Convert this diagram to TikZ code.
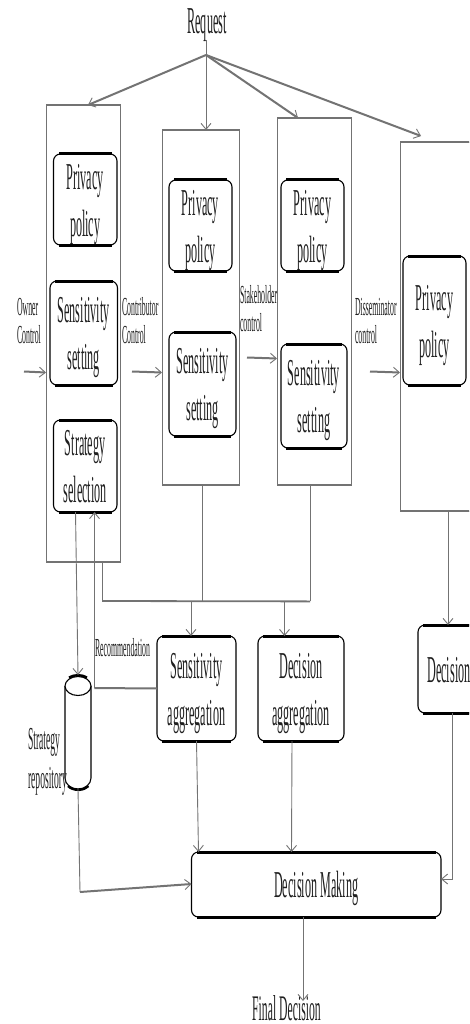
\documentclass[tikz,border=0pt]{standalone}
\usepackage{fontspec}
\setmainfont{Liberation Serif}
\usetikzlibrary{arrows.meta}
\definecolor{linegray}{gray}{0.45}
\definecolor{inkgray}{gray}{0.12}
\newcommand{\sqtext}[4]{{\fontsize{#1}{#2}\selectfont\setbox\strutbox\hbox{\vrule height .72\baselineskip depth .28\baselineskip width 0pt}\scalebox{#3}[1]{\begin{tabular}{@{}l@{}}#4\end{tabular}}}}
\newcommand{\sqcent}[4]{{\fontsize{#1}{#2}\selectfont\setbox\strutbox\hbox{\vrule height .72\baselineskip depth .28\baselineskip width 0pt}\scalebox{#3}[1]{\begin{tabular}{@{}c@{}}#4\end{tabular}}}}
\newcommand{\bigtext}[1]{\sqcent{38}{47}{0.32}{#1}}
\newcommand{\smalltext}[1]{\sqtext{26}{28}{0.3}{#1}}
\tikzset{
  boxbase/.style={inner sep=0pt,outer sep=0pt,rounded corners=7pt,draw=black,line width=1.1pt,fill=white},
  wrapbase/.style={inner sep=0pt,outer sep=0pt,draw=linegray,line width=0.9pt},
  boxbar/.style={fill=black},
  wrapbar/.style={fill=linegray},
  textlabel/.style={inner sep=0pt,outer sep=0pt,text=inkgray},
  thin conn/.style={draw=linegray,line width=0.9pt},
  thick conn/.style={draw=linegray,line width=2pt},
  tip/.style={-{Straight Barb[length=6pt,width=10pt,line width=0.9pt]}},
}
% name, x1, y1, x2, y2, text
\newcommand{\rbox}[6]{%
  \pgfmathsetmacro{\cx}{(#2+#4)/2}\pgfmathsetmacro{\cy}{-(#3+#5)/2}%
  \pgfmathsetmacro{\ww}{#4-#2}\pgfmathsetmacro{\hh}{#5-#3}%
  \node[boxbase,minimum width=\ww pt,minimum height=\hh pt] (#1) at (\cx,\cy) {};%
  \path[boxbar] (#2+5,-#3+1.5) rectangle (#4-5,-#3-1.5);%
  \path[boxbar] (#2+5,-#5+1.5) rectangle (#4-5,-#5-1.5);%
  \node[textlabel] (#1-text) at (\cx,\cy-3) {\bigtext{#6}};%
}
\newcommand{\wbox}[5]{%
  \pgfmathsetmacro{\cx}{(#2+#4)/2}\pgfmathsetmacro{\cy}{-(#3+#5)/2}%
  \pgfmathsetmacro{\ww}{#4-#2}\pgfmathsetmacro{\hh}{#5-#3}%
  \node[wrapbase,minimum width=\ww pt,minimum height=\hh pt] (#1) at (\cx,\cy) {};%
  \path[wrapbar] (#2,-#3+1) rectangle (#4,-#3-1);%
  \path[wrapbar] (#2,-#5+1) rectangle (#4,-#5-1);%
}
\begin{document}
\begin{tikzpicture}[x=1pt,y=1pt]
\clip (0,0) rectangle (469,-1024);
\fill[white] (0,0) rectangle (469,-1024);

\wbox{owner}{46}{105}{120.5}{562}
\wbox{contrib}{162}{130}{239.5}{485}
\wbox{stake}{277}{118}{351.5}{485}
\wbox{dissem}{400}{142}{520}{511}

\rbox{ownerP}{53.5}{154}{117}{245}{Privacy\\policy}
\rbox{ownerS}{50}{281}{117.5}{385}{Sensitivity\\setting}
\rbox{ownerT}{53.5}{420}{117}{512}{Strategy\\selection}
\rbox{contribP}{169}{180}{232}{271}{Privacy\\policy}
\rbox{contribS}{169}{332}{236}{436}{Sensitivity\\setting}
\rbox{stakeP}{281}{180}{344}{271}{Privacy\\policy}
\rbox{stakeS}{281}{344}{347}{448}{Sensitivity\\setting}
\rbox{dissemP}{403}{256}{466}{385}{Privacy\\policy}
\rbox{sensA}{157}{636}{236}{741}{Sensitivity\\aggregation}
\rbox{decA}{258}{636}{344}{741}{Decision\\aggregation}
\rbox{decD}{418}{625}{480}{713}{Decision}
\rbox{making}{191.5}{852}{441}{917}{Decision Making}

% strategy repository cylinder
\node[inner sep=0pt,outer sep=0pt,minimum width=26pt,minimum height=114pt] (repo) at (78,-732) {};
\draw[black,line width=1.1pt,fill=white] (repo.north west) ++(0,-11) -- ++(0,-92) arc[start angle=180,end angle=360,x radius=13,y radius=11] -- ++(0,92);
\draw[black,line width=2.4pt] (repo.south west) ++(3,3) arc[start angle=215,end angle=325,x radius=12.5,y radius=9];
\draw[black,line width=1.1pt,fill=white] (repo.north) ++(0,-11) ellipse[x radius=13,y radius=9.5];
\draw[black,line width=2.4pt] (repo.north) ++(-9,-2.5) arc[start angle=130,end angle=50,x radius=14,y radius=10];

% text labels
\node[textlabel] (request) at (207,-23) {\bigtext{Request}};
\node[textlabel] (final) at (286.5,-1008) {\fontsize{36}{36}\selectfont\scalebox{0.325}[1]{Final Decision}};
\node[textlabel,anchor=west] (lowner) at (17,-323) {\smalltext{Owner\\Control}};
\node[textlabel,anchor=west] (lcontrib) at (122,-323) {\smalltext{Contributor\\Control}};
\node[textlabel,anchor=west] (lstake) at (240,-311) {\smalltext{Stakeholder\\control}};
\node[textlabel,anchor=west] (ldissem) at (355,-323) {\smalltext{Disseminator\\control}};
\node[textlabel,anchor=west] (lrec) at (95,-650) {\smalltext{Recommendation}};
\node[textlabel,anchor=west] (lrepo) at (28,-760) {\sqtext{32}{39}{0.3}{Strategy\\repository}};

% request fan-out
\coordinate (hub) at (206,-55);
\coordinate (reqtop) at (206,-40);
\draw[thin conn,tip] (reqtop) -- (reqtop |- contrib.north);
\draw[thick conn,tip] (hub) -- ([xshift=42pt]owner.north west);
\draw[thick conn,tip] (hub) -- ([xshift=21pt]stake.north west);
\draw[thick conn,tip] (hub) -- ([xshift=21pt,yshift=6pt]dissem.north west);

% control inputs (very slight slope, as in the reference)
\coordinate (inA) at (24,-371.5);
\coordinate (inB) at (132,-371.5);
\coordinate (inC) at (247,-357.5);
\coordinate (inD) at (370,-371.5);
\draw[thick conn,tip] (inA) -- ([yshift=-1pt]inA -| owner.west);
\draw[thick conn,tip] (inB) -- ([yshift=-1pt]inB -| contrib.west);
\draw[thick conn,tip] (inC) -- ([yshift=-1pt]inC -| stake.west);
\draw[thick conn,tip] (inD) -- ([yshift=-1pt]inD -| dissem.west);

% strategy and repository
\draw[thin conn,tip] ([xshift=22pt]ownerT.south west) -- (repo.north);
\coordinate (recjoin) at (94.5,-688);
\draw[thin conn,tip] (recjoin) -- (recjoin |- ownerT.south);
\draw[thick conn] (recjoin) -- ([yshift=-0.5pt]recjoin -| sensA.west);

% aggregation bus
\coordinate (busL) at (102,-601);
\coordinate (busR) at (310,-601);
\draw[thick conn,line width=1.8pt] (busL) -- ([yshift=-0.4pt]busR);
\draw[thin conn] (busL) -- (busL |- owner.south);
\draw[thin conn] (busR) -- (busR |- stake.south);
\coordinate (busM) at (202,-601);
\draw[thin conn] (busM) -- (busM |- contrib.south);
\coordinate (busS) at (191,-601);
\coordinate (busD) at (284.5,-601);
\draw[thin conn,tip] (busS) -- (busS |- sensA.north);
\draw[thin conn,tip] (busD) -- (busD |- decA.north);

% dissemination decision
\coordinate (dtop) at (448,-511);
\draw[thin conn,tip] (dtop) -- (dtop |- decD.north);

% into decision making
\draw[thin conn,tip] ([xshift=39.5pt]sensA.south west) -- ([xshift=7pt]making.north west);
\draw[thin conn,tip] ([xshift=34pt]decA.south west) -- ([xshift=100pt]making.north west);
\coordinate (dcorner) at (452,-879);
\draw[thin conn,tip] (dcorner |- decD.south) -- (dcorner) -- (dcorner -| making.east);
\coordinate (rcorner) at (80,-892);
\draw[thin conn] (repo.south) -- (rcorner);
\draw[thick conn,tip] (rcorner) -- ([yshift=-32pt]making.north west);

% final decision
\coordinate (fdtop) at ([xshift=111.5pt]making.south west);
\coordinate (fdend) at (303,-1001);
\draw[thin conn,tip] (fdtop) -- (fdend);
\end{tikzpicture}
\end{document}
